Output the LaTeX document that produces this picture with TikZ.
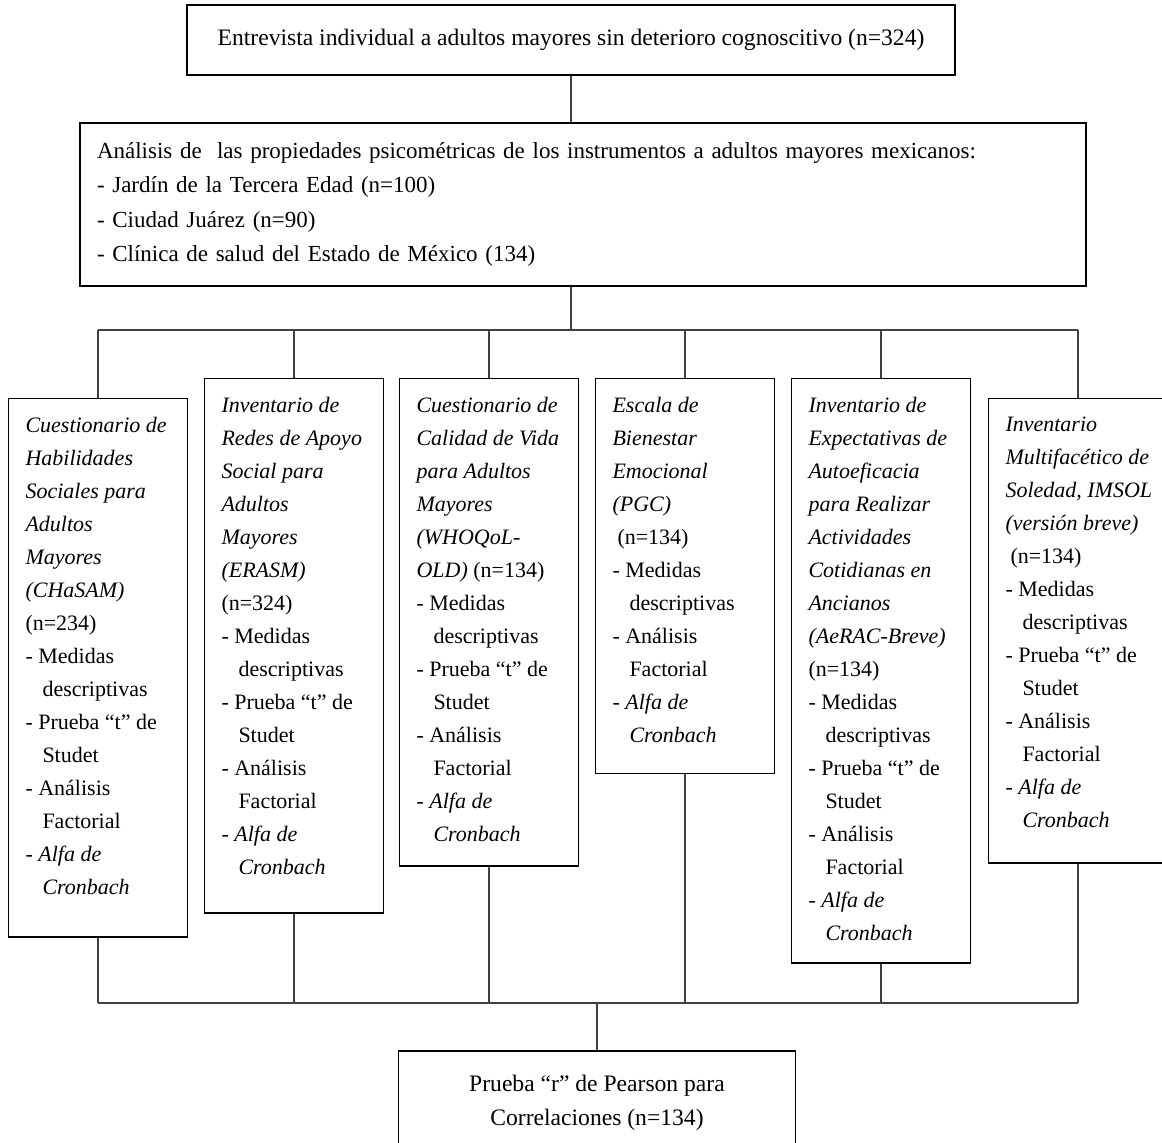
\documentclass[tikz,border=0pt]{standalone}
\usepackage{fontspec}
\setmainfont{Liberation Serif}

% text block of an instrument box: fixed height, text at the top
\newcommand{\instr}[2]{\parbox[t][#1][t]{72.5pt}{\raggedright #2}}
\newcommand{\ind}{\hspace*{8.5pt}}

\begin{document}
\begin{tikzpicture}[x=0.5pt,y=-0.5pt,
      caja/.style={draw=black,line width=0.75pt},
      instbox/.style={caja,anchor=north,inner xsep=8.5pt,inner ysep=9pt,
        font=\fontsize{11}{16.5}\selectfont},
      conn/.style={draw=black!75,line width=0.75pt}]
    \useasboundingbox (0,0) rectangle (1162,1143);

    \node (entrevista) [caja,minimum width=384pt,minimum height=35pt,
      font=\fontsize{11.8}{17}\selectfont] at (571,40)
      {Entrevista individual a adultos mayores sin deterioro cognoscitivo (n=324)};

    \node (analisis) [caja,text width=486pt,align=left,inner xsep=8.5pt,
      minimum height=81.5pt,font=\fontsize{11.5}{17.3}\selectfont] at (583,204.5)
      {Análisis de\ \ las propiedades psicométricas de los instrumentos a adultos mayores mexicanos:\\
       - Jardín de la Tercera Edad (n=100)\\
       - Ciudad Juárez (n=90)\\
       - Clínica de salud del Estado de México (134)};

    % instrumentos
    \node (chasam) [instbox] at (98,398) {\instr{251pt}{%
      \textit{Cuestionario de}\\ \textit{Habilidades}\\ \textit{Sociales para}\\
      \textit{Adultos}\\ \textit{Mayores}\\ \textit{(CHaSAM)}\\ (n=234)\\
      - Medidas\\ \ind descriptivas\\ - Prueba “t” de\\ \ind Studet\\
      - Análisis\\ \ind Factorial\\ - \textit{Alfa de}\\ \ind\textit{Cronbach}}};
    \node (erasm) [instbox] at (294,378) {\instr{249pt}{%
      \textit{Inventario de}\\ \textit{Redes de Apoyo}\\ \textit{Social para}\\
      \textit{Adultos}\\ \textit{Mayores}\\ \textit{(ERASM)}\\ (n=324)\\
      - Medidas\\ \ind descriptivas\\ - Prueba “t” de\\ \ind Studet\\
      - Análisis\\ \ind Factorial\\ - \textit{Alfa de}\\ \ind\textit{Cronbach}}};
    \node (whoqol) [instbox] at (489,378) {\instr{225.5pt}{%
      \textit{Cuestionario de}\\ \textit{Calidad de Vida}\\ \textit{para Adultos}\\
      \textit{Mayores}\\ \textit{(WHOQoL-}\\ \textit{OLD)} (n=134)\\
      - Medidas\\ \ind descriptivas\\ - Prueba “t” de\\ \ind Studet\\
      - Análisis\\ \ind Factorial\\ - \textit{Alfa de}\\ \ind\textit{Cronbach}}};
    \node (pgc) [instbox] at (685,378) {\instr{179.5pt}{%
      \textit{Escala de}\\ \textit{Bienestar}\\ \textit{Emocional}\\
      \textit{(PGC)}\\ \hspace*{2.5pt}(n=134)\\
      - Medidas\\ \ind descriptivas\\
      - Análisis\\ \ind Factorial\\ - \textit{Alfa de}\\ \ind\textit{Cronbach}}};
    \node (aerac) [instbox] at (881,378) {\instr{274pt}{%
      \textit{Inventario de}\\ \textit{Expectativas de}\\ \textit{Autoeficacia}\\
      \textit{para Realizar}\\ \textit{Actividades}\\ \textit{Cotidianas en}\\
      \textit{Ancianos}\\ \textit{(AeRAC-Breve)}\\ (n=134)\\
      - Medidas\\ \ind descriptivas\\ - Prueba “t” de\\ \ind Studet\\
      - Análisis\\ \ind Factorial\\ - \textit{Alfa de}\\ \ind\textit{Cronbach}}};
    \node (imsol) [instbox] at (1078,398) {\instr{214pt}{%
      \textit{Inventario}\\ \textit{Multifacético de}\\ \mbox{\textit{Soledad, IMSOL}}\\
      \textit{(versión breve)}\\ \hspace*{2.5pt}(n=134)\\
      - Medidas\\ \ind descriptivas\\ - Prueba “t” de\\ \ind Studet\\
      - Análisis\\ \ind Factorial\\ - \textit{Alfa de}\\ \ind\textit{Cronbach}}};

    \node (pearson) [caja,anchor=north,minimum width=198.5pt,minimum height=52pt,
      align=center,font=\fontsize{11.8}{17}\selectfont] at (597,1050)
      {Prueba “r” de Pearson para\\ Correlaciones (n=134)};

    \coordinate (busT) at (0,330);
    \coordinate (busB) at (0,1003);

    \draw [conn] (entrevista.south) -- (entrevista.south |- analisis.north);
    \draw [conn] (entrevista.south |- analisis.south) -- (entrevista.south |- busT);
    \draw [conn] (chasam.north |- busT) -- (imsol.north |- busT);
    \draw [conn] (chasam.south |- busB) -- (imsol.south |- busB);
    \foreach \b in {chasam,erasm,whoqol,pgc,aerac,imsol} {
      \draw [conn] (\b.north |- busT) -- (\b.north);
      \draw [conn] (\b.south) -- (\b.south |- busB);
    }
    \draw [conn] (pearson.north |- busB) -- (pearson.north);
\end{tikzpicture}
\end{document}
